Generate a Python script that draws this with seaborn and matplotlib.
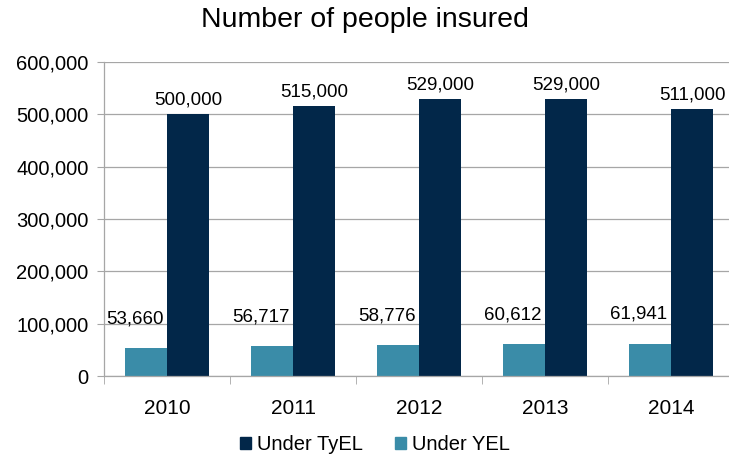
import matplotlib
matplotlib.use("Agg")
import matplotlib.pyplot as plt
import seaborn as sns
import pandas as pd
from matplotlib.patches import Patch
from matplotlib.ticker import FuncFormatter, FixedLocator

years = ["2010", "2011", "2012", "2013", "2014"]
tyel = [500000, 515000, 529000, 529000, 511000]
yel = [53660, 56717, 58776, 60612, 61941]
series_names = ["Under YEL", "Under TyEL"]
colors = {"Under YEL": "#3a8ca8", "Under TyEL": "#022749"}

df = pd.DataFrame({
    "year": years * 2,
    "series": ["Under YEL"] * len(years) + ["Under TyEL"] * len(years),
    "value": yel + tyel,
})

sns.set_style("white")
plt.rcParams["font.family"] = ["Liberation Sans", "DejaVu Sans"]
plt.rcParams["text.color"] = "black"
plt.rcParams["xtick.color"] = "black"
plt.rcParams["ytick.color"] = "black"
plt.rcParams["axes.labelcolor"] = "black"

fig = plt.figure(figsize=(7.29, 4.57), dpi=100)
ax = fig.add_axes([104 / 729, 1 - 376 / 457, 625 / 729, 314 / 457])

sns.barplot(data=df, x="year", y="value", hue="series", hue_order=series_names,
            palette=colors, order=years, width=0.667, ax=ax, legend=False,
            saturation=1, edgecolor="none")

ax.set_ylim(0, 600000)
ax.set_xlim(-0.5, 4.46)
ax.set_yticks(range(0, 600001, 100000))
ax.yaxis.set_major_formatter(FuncFormatter(lambda v, p: f"{int(v):,}"))
ax.yaxis.grid(True, color="#a6a6a6", linewidth=0.9)
ax.set_axisbelow(True)
ax.set_xlabel("")
ax.set_ylabel("")

for s in ["top", "right"]:
    ax.spines[s].set_visible(False)
for s in ["left", "bottom"]:
    ax.spines[s].set_color("#a6a6a6")
    ax.spines[s].set_linewidth(0.9)

ax.tick_params(axis="y", which="major", left=True, length=5, color="#a6a6a6",
               labelsize=14.5, labelcolor="#000000", pad=6)
ax.tick_params(axis="x", which="major", bottom=False, labelsize=15, pad=13,
               labelcolor="#000000")
ax.xaxis.set_minor_locator(FixedLocator([i - 0.5 for i in range(len(years) + 1)]))
ax.tick_params(axis="x", which="minor", bottom=True, length=6, color="#a6a6a6")

# labels
for cont, name in zip(ax.containers, series_names):
    for bar in cont:
        h = bar.get_height()
        cx = bar.get_x() + bar.get_width() / 2
        if name == "Under TyEL":
            ax.annotate(f"{int(h):,}", (cx, h), xytext=(0, 4), textcoords="offset points",
                        ha="center", va="bottom", fontsize=13.5, color="black")
        else:
            ax.annotate(f"{int(h):,}", (cx, h), xytext=(-8, 15), textcoords="offset points",
                        ha="center", va="bottom", fontsize=13.5, color="black")

fig.suptitle("Number of people insured", y=0.985, fontsize=20.5, color="black")

handles = [Patch(color=colors["Under TyEL"], label="Under TyEL"),
           Patch(color=colors["Under YEL"], label="Under YEL")]
fig.legend(handles=handles, loc="center", bbox_to_anchor=(375 / 729, 1 - 445 / 457),
           ncol=2, frameon=False, fontsize=14.5, handlelength=0.55, handleheight=0.55,
           handletextpad=0.3, columnspacing=1.6, labelcolor="black")

fig.savefig("out.png", dpi=100)
